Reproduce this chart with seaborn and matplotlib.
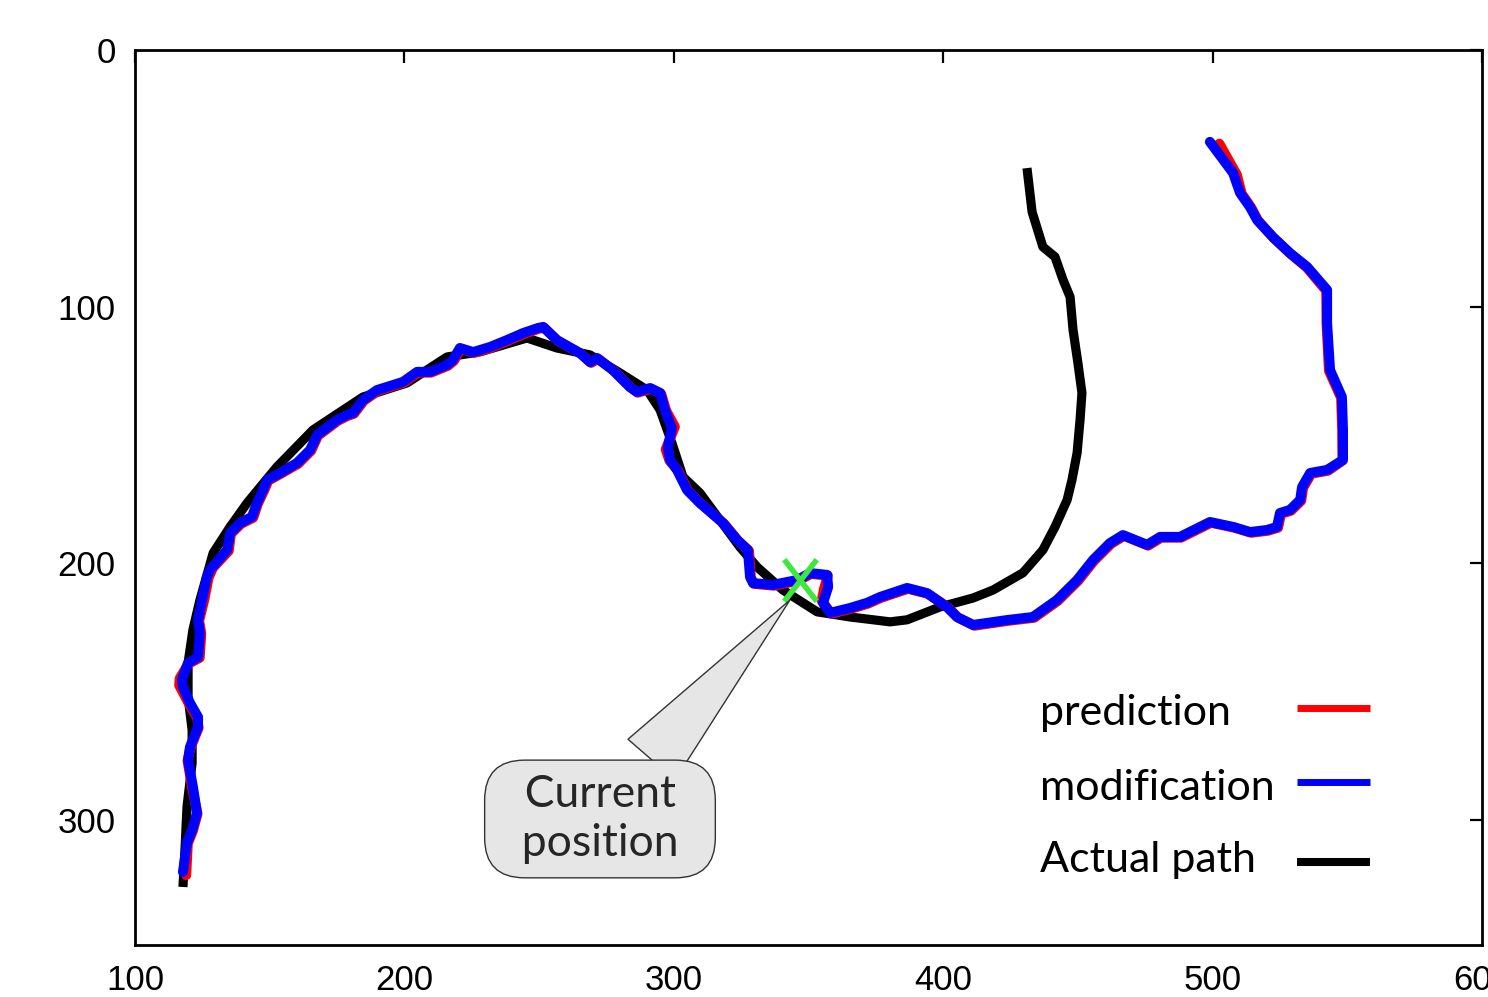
import numpy as np
import pandas as pd
import matplotlib
matplotlib.use("Agg")
import matplotlib.pyplot as plt
import seaborn as sns
from matplotlib.path import Path
from matplotlib.lines import Line2D

# ---- data ----
actual_x = [117.8, 118.6, 119.3, 121.2, 121.2, 119.7, 119.7, 121.5, 124.1, 129.0, 135.3, 141.6,
            152.7, 166.1, 184.6, 201.0, 215.8, 228.1, 245.5, 256.6, 268.9, 280.0, 290.1, 294.9,
            299.3, 303.4, 309.7, 317.1, 324.5, 330.9, 340.5, 353.2, 365.4, 380.3, 386.6, 398.8,
            411.1, 418.5, 429.6, 437.0, 441.5, 446.0, 447.8, 449.7, 450.8, 451.5, 450.0, 448.2,
            447.1, 444.5, 441.5, 437.0, 433.0, 431.1]
actual_y = [326.1, 310.5, 294.9, 277.8, 264.9, 252.0, 238.8, 225.9, 214.3, 196.0, 185.8, 176.5,
            162.4, 148.0, 135.2, 129.7, 119.6, 117.6, 112.2, 116.1, 118.8, 125.8, 132.5, 140.2,
            153.1, 166.3, 172.6, 183.1, 193.6, 201.4, 210.4, 218.9, 220.9, 222.8, 222.0, 217.0,
            213.5, 210.4, 203.7, 194.8, 185.8, 175.3, 167.5, 157.0, 144.1, 133.6, 121.9, 109.1,
            96.2, 89.6, 80.6, 76.7, 63.1, 46.0]

modif_x = [117.8, 119.3, 121.2, 123.0, 121.5, 119.7, 120.4, 123.4, 123.4, 120.4, 117.8, 117.4,
           119.7, 123.4, 124.1, 123.4, 124.9, 126.7, 127.8, 134.2, 135.3, 139.0, 143.4, 145.3,
           147.5, 149.0, 153.8, 160.1, 165.0, 167.6, 175.0, 178.7, 180.9, 184.6, 189.8, 199.5,
           204.7, 209.5, 215.8, 218.0, 220.6, 225.5, 231.8, 238.1, 244.0, 249.6, 251.5, 256.6,
           265.2, 268.9, 271.5, 277.4, 283.7, 286.3, 291.2, 294.9, 296.7, 299.3, 297.8, 298.6,
           301.2, 304.9, 309.7, 318.3, 323.5, 327.5, 328.3, 329.4, 336.8, 345.7, 350.6, 356.9,
           357.3, 355.4, 358.0, 365.4, 371.7, 376.6, 386.6, 394.0, 401.4, 405.1, 411.1, 423.7,
           433.3, 442.2, 449.7, 455.6, 461.9, 466.7, 475.7, 480.5, 487.9, 499.0, 507.6, 513.9,
           520.2, 523.9, 525.0, 528.7, 532.5, 533.2, 536.2, 542.5, 548.4, 548.4, 548.0, 543.6,
           542.5, 542.5, 535.1, 528.7, 522.4, 516.5, 513.9, 510.2, 507.6, 499.0]
modif_y = [320.3, 308.9, 303.9, 297.3, 287.1, 276.6, 271.6, 263.8, 259.9, 254.4, 248.2, 245.4,
           238.8, 236.5, 227.1, 222.1, 214.3, 205.3, 202.6, 194.8, 188.2, 184.3, 181.9, 176.5,
           171.4, 167.5, 164.8, 160.9, 155.8, 150.0, 144.1, 142.2, 141.4, 136.4, 132.5, 129.3,
           125.4, 125.4, 122.7, 120.8, 116.1, 117.7, 115.7, 113.0, 110.3, 108.3, 107.9, 113.0,
           118.1, 121.6, 120.0, 124.7, 131.3, 133.2, 131.7, 133.6, 140.3, 147.3, 154.7, 159.7,
           163.6, 171.4, 176.5, 184.3, 190.9, 194.8, 205.3, 207.7, 208.4, 206.5, 203.8, 204.5,
           209.2, 215.4, 219.3, 217.4, 215.4, 213.1, 209.6, 211.6, 217.0, 220.9, 224.0, 222.1,
           220.9, 214.3, 206.5, 198.7, 192.1, 189.0, 192.8, 189.7, 189.7, 183.9, 185.8, 187.8,
           187.0, 185.8, 180.4, 179.2, 175.3, 170.3, 164.8, 163.6, 159.7, 148.0, 135.2, 124.7,
           106.4, 93.5, 84.5, 79.1, 72.9, 66.2, 61.2, 55.7, 47.9, 35.8]

pred_x = [119.0, 119.6, 121.5, 123.2, 121.2, 119.5, 120.6, 123.6, 123.1, 120.0, 116.4, 116.6,
          119.9, 124.0, 124.6, 123.8, 125.8, 127.3, 128.9, 134.8, 135.6, 139.4, 143.9, 145.6,
          147.9, 149.5, 154.1, 160.6, 165.4, 167.9, 175.4, 179.0, 181.3, 184.9, 190.2, 199.8,
          205.1, 209.9, 216.2, 218.4, 220.9, 225.9, 232.2, 238.4, 244.4, 249.9, 251.9, 256.9,
          265.6, 269.3, 271.9, 277.8, 284.1, 286.6, 291.6, 295.3, 297.2, 300.4, 297.0, 298.4,
          301.6, 305.3, 310.1, 318.7, 323.9, 327.9, 328.6, 329.8, 337.2, 346.1, 351.0, 357.2,
          355.8, 354.9, 358.4, 365.8, 372.1, 377.0, 387.0, 394.4, 401.9, 405.6, 411.6, 424.1,
          433.8, 442.6, 450.1, 456.0, 462.3, 467.1, 476.1, 480.9, 488.3, 499.4, 508.0, 514.3,
          520.6, 524.3, 525.4, 529.1, 532.9, 533.6, 536.6, 542.9, 548.2, 548.1, 547.7, 543.2,
          542.3, 542.2, 535.0, 528.9, 522.6, 516.9, 514.4, 510.8, 509.0, 502.5]
pred_y = [321.5, 309.2, 304.2, 297.6, 287.4, 276.9, 271.9, 264.1, 260.2, 254.7, 247.5, 244.8,
          239.1, 236.8, 227.4, 222.4, 213.8, 205.6, 201.8, 195.1, 188.5, 184.6, 182.2, 176.8,
          171.7, 167.8, 165.1, 161.2, 156.1, 150.3, 144.4, 142.5, 141.7, 136.7, 132.8, 129.6,
          125.7, 125.7, 123.0, 121.1, 116.4, 118.0, 116.0, 113.3, 110.6, 108.6, 108.2, 113.3,
          118.4, 121.9, 120.3, 125.0, 131.6, 133.5, 132.0, 133.9, 140.6, 146.8, 155.6, 160.0,
          163.9, 171.7, 176.8, 184.6, 191.2, 195.1, 205.6, 208.0, 208.7, 206.8, 204.1, 204.8,
          209.8, 214.6, 219.6, 217.7, 215.7, 213.4, 209.9, 211.9, 217.3, 221.2, 224.3, 222.4,
          221.2, 214.6, 206.8, 199.0, 192.4, 189.3, 193.1, 190.0, 190.0, 184.2, 186.1, 188.1,
          187.3, 186.1, 180.7, 179.5, 175.6, 170.6, 165.1, 163.9, 160.0, 148.3, 135.5, 125.0,
          106.7, 93.8, 84.8, 79.4, 73.2, 66.5, 61.5, 56.0, 48.6, 36.5]

current_pos = (346.8, 206.5)
callout_anchor = (343.1, 214.3)
callout_text_pos = (272.6, 299.6)

series_names = ["prediction", "modification", "Actual path"]
series_colors = ["#ff0000", "#0000ff", "#000000"]

x_ticks = [100, 200, 300, 400, 500, 600]
y_ticks = [0, 100, 200, 300]

# ---- plotting ----
sns.set_theme(style="white")
plt.rcParams["font.family"] = ["Liberation Sans", "DejaVu Sans"]

fig = plt.figure(figsize=(14.88, 9.97), dpi=100)
W, H = 1488, 997
ax = fig.add_axes([135 / W, 1 - 945 / H, 1347 / W, 895 / H])

df_act = pd.DataFrame({"x": actual_x, "y": actual_y})
df_pred = pd.DataFrame({"x": pred_x, "y": pred_y})
df_mod = pd.DataFrame({"x": modif_x, "y": modif_y})

sns.lineplot(data=df_act, x="x", y="y", sort=False, estimator=None, ax=ax,
             color=series_colors[2], linewidth=6.6, solid_capstyle="butt",
             solid_joinstyle="round", zorder=2)
sns.lineplot(data=df_pred, x="x", y="y", sort=False, estimator=None, ax=ax,
             color=series_colors[0], linewidth=7.2, solid_joinstyle="round", zorder=3)
sns.lineplot(data=df_mod, x="x", y="y", sort=False, estimator=None, ax=ax,
             color=series_colors[1], linewidth=7.2, solid_joinstyle="round", zorder=4)

# green cross marker at current position
xmark = Path([(-0.78, -1), (0.78, 1), (-0.78, 1), (0.78, -1)],
             [Path.MOVETO, Path.LINETO, Path.MOVETO, Path.LINETO])
ax.plot([current_pos[0]], [current_pos[1]], linestyle="none", marker=xmark,
        markersize=30, markeredgewidth=4.0, color="#3ce83c", zorder=6)

# callout
ax.annotate("  Current  \n  position  ", xy=callout_anchor, xytext=callout_text_pos,
            ha="center", va="center", fontsize=32, family=["Lato", "DejaVu Sans"],
            linespacing=1.22, zorder=7,
            bbox=dict(boxstyle="round,pad=0.32,rounding_size=0.9", fc="#e6e6e6", ec="#333333", lw=1.0),
            arrowprops=dict(arrowstyle="wedge,tail_width=1.4,shrink_factor=0.5",
                            fc="#e6e6e6", ec="#333333", lw=1.0, shrinkA=0, shrinkB=0))

ax.set_xlim(100, 600)
ax.set_ylim(348.7, 0)
ax.set_xticks(x_ticks)
ax.set_yticks(y_ticks)
ax.set_xticklabels([str(v) for v in x_ticks])
ax.set_yticklabels([str(v) for v in y_ticks])
ax.set_xlabel("")
ax.set_ylabel("")
ax.tick_params(direction="in", length=9, width=1.6, top=True, right=True,
               labelsize=25, pad=14, colors="black")
for s in ax.spines.values():
    s.set_linewidth(2.0)
    s.set_color("black")
    s.set_visible(True)

# key (legend) drawn at the lower right, text left-justified, samples on the right
key_text_y = [0.2458, 0.162, 0.0816]
key_line_y = [0.2648, 0.1821, 0.0927]
key_widths = [5.0, 5.0, 5.8]
for name, col, ty, ly, lw in zip(series_names, series_colors, key_text_y, key_line_y, key_widths):
    ax.text(0.672, ty, name, transform=ax.transAxes, ha="left", va="baseline",
            fontsize=31, family=["Lato", "DejaVu Sans"], color="black")
    ax.add_line(Line2D([0.8627, 0.9169], [ly, ly], transform=ax.transAxes,
                       color=col, linewidth=lw, solid_capstyle="butt"))

fig.savefig("out.png", dpi=100)
